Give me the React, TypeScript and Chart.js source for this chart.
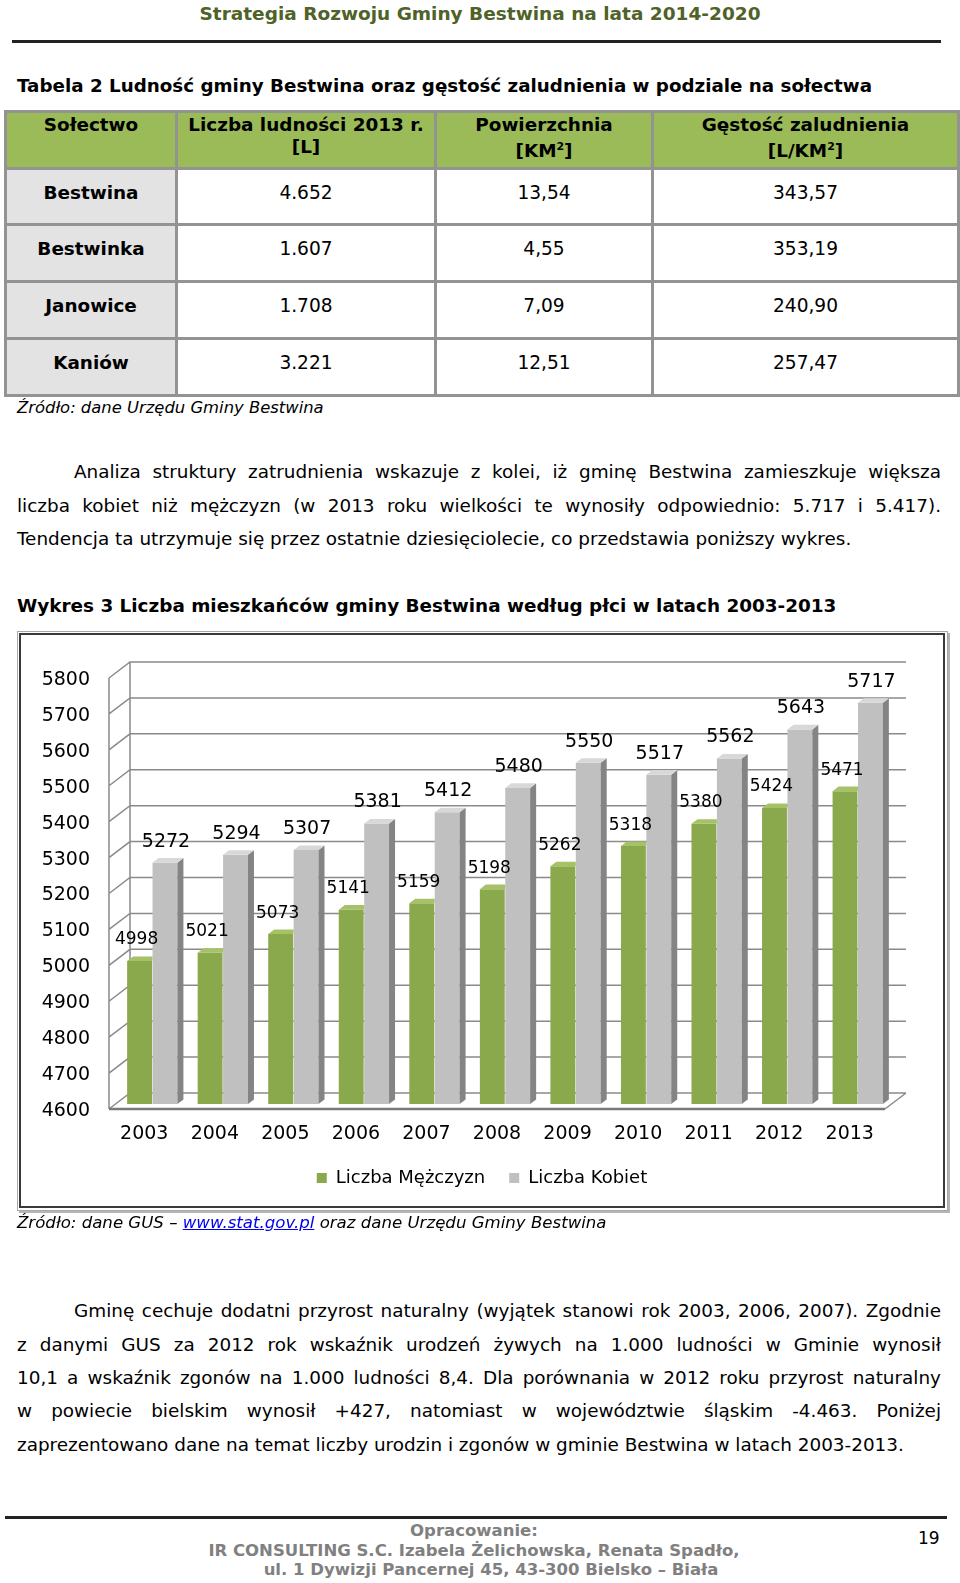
import React, { useEffect, useRef } from "react";
import { Chart, registerables } from "chart.js";

Chart.register(...registerables);

const FONT = "'DejaVu Sans', Verdana, sans-serif";

// ---- chart data ----
const years = ["2003", "2004", "2005", "2006", "2007", "2008", "2009", "2010", "2011", "2012", "2013"];
const menCounts = [4998, 5021, 5073, 5141, 5159, 5198, 5262, 5318, 5380, 5424, 5471];
const womenCounts = [5272, 5294, 5307, 5381, 5412, 5480, 5550, 5517, 5562, 5643, 5717];
const seriesLabels = ["Liczba Mężczyzn", "Liczba Kobiet"];
const axisMin = 4600;
const axisMax = 5800;
const axisStep = 100;

// ---- table data ----
const villages = ["Bestwina", "Bestwinka", "Janowice", "Kaniów"];
const population = ["4.652", "1.607", "1.708", "3.221"];
const areaKm2 = ["13,54", "4,55", "7,09", "12,51"];
const density = ["343,57", "353,19", "240,90", "257,47"];

const para1 = [
  "Analiza struktury zatrudnienia wskazuje z kolei, iż gminę Bestwina zamieszkuje większa",
  "liczba kobiet niż mężczyzn (w 2013 roku wielkości te wynosiły odpowiednio: 5.717 i 5.417).",
  "Tendencja ta utrzymuje się przez ostatnie dziesięciolecie, co przedstawia poniższy wykres.",
];
const para2 = [
  "Gminę cechuje dodatni przyrost naturalny (wyjątek stanowi rok 2003, 2006, 2007). Zgodnie",
  "z danymi GUS za 2012 rok wskaźnik urodzeń żywych na 1.000 ludności w Gminie wynosił",
  "10,1 a wskaźnik zgonów na 1.000 ludności 8,4. Dla porównania w 2012 roku przyrost naturalny",
  "w powiecie bielskim wynosił +427, natomiast w województwie śląskim -4.463. Poniżej",
  "zaprezentowano dane na temat liczby urodzin i zgonów w gminie Bestwina w latach 2003-2013.",
];

const BODY = 18.4;

function PopulationChart() {
  const ref = useRef<HTMLCanvasElement>(null);
  useEffect(() => {
    if (!ref.current) return;
    const DX = 21, DY = -16; // wall depth
    const BX = 8, BY = -5; // bars placed at mid depth
    const SX = 6, SY = -4.6; // bar thickness

    const poly = (ctx: CanvasRenderingContext2D, pts: number[][], fill: string) => {
      ctx.beginPath();
      ctx.moveTo(pts[0][0], pts[0][1]);
      for (let k = 1; k < pts.length; k++) ctx.lineTo(pts[k][0], pts[k][1]);
      ctx.closePath();
      ctx.fillStyle = fill;
      ctx.fill();
    };

    const walls3d = {
      id: "walls3d",
      afterLayout(chart: any) {
        const lg = chart.legend;
        if (lg) {
          lg.left += 31;
          lg.right += 31;
        }
      },
      beforeDatasetsDraw(chart: any) {
        const { ctx, chartArea: a } = chart;
        const y = chart.scales.y;
        ctx.save();
        ctx.strokeStyle = "#8a8a8a";
        ctx.lineWidth = 1.5;
        ctx.beginPath();
        y.ticks.forEach((t: any) => {
          const py = y.getPixelForValue(t.value);
          ctx.moveTo(a.left, py);
          ctx.lineTo(a.left + DX, py + DY);
          ctx.lineTo(a.right + DX, py + DY);
        });
        ctx.moveTo(a.left, a.top);
        ctx.lineTo(a.left, a.bottom);
        ctx.moveTo(a.left + DX, a.top + DY);
        ctx.lineTo(a.left + DX, a.bottom + DY);
        ctx.moveTo(a.right, a.bottom);
        ctx.lineTo(a.right + DX, a.bottom + DY);
        ctx.stroke();
        ctx.lineWidth = 2.5;
        ctx.strokeStyle = "#7a7a7a";
        ctx.beginPath();
        ctx.moveTo(a.left, a.bottom);
        ctx.lineTo(a.right, a.bottom);
        ctx.stroke();
        ctx.restore();
        ctx.save();
        ctx.translate(BX, BY);
      },
      afterDatasetsDraw(chart: any) {
        const { ctx } = chart;
        const m0 = chart.getDatasetMeta(0).data;
        const m1 = chart.getDatasetMeta(1).data;
        m0.forEach((b0: any, i: number) => {
          const b1 = m1[i];
          const l0 = b0.x - b0.width / 2, r0 = b0.x + b0.width / 2;
          const l1 = b1.x - b1.width / 2, r1 = b1.x + b1.width / 2;
          ctx.save();
          ctx.beginPath();
          ctx.rect(l0 - 2, 0, l1 - l0 + 2, chart.height);
          ctx.clip();
          poly(ctx, [[l0, b0.y], [r0, b0.y], [r0 + SX, b0.y + SY], [l0 + SX, b0.y + SY]], "#a6c168");
          ctx.restore();
          poly(ctx, [[r1, b1.y], [r1 + SX, b1.y + SY], [r1 + SX, b1.base + SY], [r1, b1.base]], "#848484");
          poly(ctx, [[l1, b1.y], [r1, b1.y], [r1 + SX, b1.y + SY], [l1 + SX, b1.y + SY]], "#d8d8d8");
        });
        ctx.restore();
        ctx.save();
        ctx.fillStyle = "#000";
        ctx.textAlign = "center";
        ctx.textBaseline = "middle";
        ctx.font = `17px ${FONT}`;
        m0.forEach((b: any, i: number) => ctx.fillText(String(menCounts[i]), b.x + BX - 3, b.y + BY - 21));
        ctx.font = `19px ${FONT}`;
        m1.forEach((b: any, i: number) => ctx.fillText(String(womenCounts[i]), b.x + BX + 1, b.y + BY - 21));
        ctx.restore();
      },
    };

    const chart = new Chart(ref.current, {
      type: "bar",
      data: {
        labels: years,
        datasets: [
          { label: seriesLabels[0], data: menCounts, base: axisMin, backgroundColor: "#8aa84c", borderWidth: 0, clip: false } as any,
          { label: seriesLabels[1], data: womenCounts, base: axisMin, backgroundColor: "#c0c0c0", borderWidth: 0, clip: false } as any,
        ],
      },
      options: {
        animation: false,
        responsive: false,
        maintainAspectRatio: false,
        devicePixelRatio: 1,
        layout: { padding: { top: 47, right: 63, left: 0, bottom: 14 } },
        datasets: { bar: { categoryPercentage: 0.72, barPercentage: 0.98 } },
        scales: {
          x: {
            grid: { display: false, drawTicks: false },
            border: { display: false },
            ticks: { color: "#000", font: { family: FONT, size: 19 }, padding: 14, maxRotation: 0, autoSkip: false },
            afterFit: (s: any) => { s.height = 36; },
          },
          y: {
            min: axisMin,
            max: axisMax,
            grid: { display: false, drawTicks: false },
            border: { display: false },
            ticks: {
              stepSize: axisStep,
              color: "#000",
              font: { family: FONT, size: 19 },
              padding: 19,
              labelOffset: 2,
              callback: (v: any) => String(v),
            },
            afterFit: (s: any) => { s.width = 92; },
          },
        },
        plugins: {
          legend: {
            position: "bottom",
            labels: { boxWidth: 10, boxHeight: 10, padding: 24, color: "#000", font: { family: FONT, size: 18 } },
          },
          tooltip: { enabled: false },
        },
      },
      plugins: [walls3d],
    });
    return () => chart.destroy();
  }, []);
  return <canvas ref={ref} width={931} height={580} style={{ position: "absolute", left: 17, top: 631, width: 931, height: 580 }} />;
}

const abs = (left: number, top: number, extra: React.CSSProperties = {}): React.CSSProperties => ({
  position: "absolute",
  left,
  top,
  whiteSpace: "nowrap",
  ...extra,
});

function Line({ text, left, center, width, justify }: { text: string; left: number; center: number; width: number; justify: boolean }) {
  return (
    <div
      style={abs(left, center - 12, {
        width,
        lineHeight: "24px",
        fontSize: BODY,
        textAlign: justify ? "justify" : "left",
        textAlignLast: justify ? "justify" : "left",
      } as React.CSSProperties)}
    >
      {text}
    </div>
  );
}

export default function App() {
  const border = "3px solid #939393";
  const th: React.CSSProperties = {
    border,
    background: "#9bbb59",
    fontWeight: "bold",
    verticalAlign: "top",
    textAlign: "center",
    lineHeight: "22px",
    paddingTop: 1,
    fontSize: 18.4,
  };
  const td: React.CSSProperties = {
    border,
    textAlign: "center",
    verticalAlign: "middle",
    fontSize: 18.6,
    paddingBottom: 10,
  };
  const p1Centers = [472, 506, 539];
  const p2Centers = [1311, 1345, 1378, 1411, 1445];
  const footer: React.CSSProperties = { textAlign: "center", fontWeight: "bold", fontSize: 16.5, lineHeight: "20px", color: "#808080" };
  return (
    <div style={{ position: "absolute", left: 0, top: 0, width: 960, height: 1583, background: "#fff", fontFamily: FONT, color: "#000", overflow: "hidden" }}>
      <div style={abs(0, 3, { width: 960, textAlign: "center", fontWeight: "bold", fontSize: 18.5, lineHeight: "22px", color: "#4f6228" })}>
        Strategia Rozwoju Gminy Bestwina na lata 2014-2020
      </div>
      <div style={abs(12, 40, { width: 929, height: 3, background: "#222" })} />

      <div style={abs(17, 75, { fontWeight: "bold", fontSize: 18.3, lineHeight: "22px" })}>
        Tabela 2 Ludność gminy Bestwina oraz gęstość zaludnienia w podziale na sołectwa
      </div>

      <table style={{ position: "absolute", left: 4, top: 110, width: 953, borderCollapse: "collapse", tableLayout: "fixed" }}>
        <colgroup>
          <col style={{ width: 171 }} />
          <col style={{ width: 259 }} />
          <col style={{ width: 217 }} />
          <col style={{ width: 306 }} />
        </colgroup>
        <tbody>
          <tr style={{ height: 57 }}>
            <td style={th}>Sołectwo</td>
            <td style={th}>Liczba ludności 2013 r.<br />[L]</td>
            <td style={th}>Powierzchnia<br />[KM<sup style={{ fontSize: 11 }}>2</sup>]</td>
            <td style={th}>Gęstość zaludnienia<br />[L/KM<sup style={{ fontSize: 11 }}>2</sup>]</td>
          </tr>
          {villages.map((v, i) => (
            <tr key={v} style={{ height: i === 0 ? 56 : 57 }}>
              <td style={{ ...td, background: "#e3e3e3", fontWeight: "bold", fontSize: 18.4 }}>{v}</td>
              <td style={td}>{population[i]}</td>
              <td style={td}>{areaKm2[i]}</td>
              <td style={td}>{density[i]}</td>
            </tr>
          ))}
        </tbody>
      </table>

      <div style={abs(17, 397, { fontStyle: "italic", fontSize: 16.4, lineHeight: "22px" })}>Źródło: dane Urzędu Gminy Bestwina</div>

      {para1.map((t, i) => (
        <Line key={i} text={t} left={i === 0 ? 74 : 17} width={i === 0 ? 867 : 924} center={p1Centers[i]} justify={i < para1.length - 1} />
      ))}

      <div style={abs(17, 595, { fontWeight: "bold", fontSize: 18.4, lineHeight: "22px" })}>
        Wykres 3 Liczba mieszkańców gminy Bestwina według płci w latach 2003-2013
      </div>

      <PopulationChart />
      <div style={abs(17, 631, { width: 931, height: 580, boxSizing: "border-box", border: "1px solid #a8a8a8", boxShadow: "2px 2px 0 #b5b5b5", pointerEvents: "none" })} />
      <div style={abs(19, 633, { width: 926, height: 575, boxSizing: "border-box", border: "2px solid #3a3a3a", pointerEvents: "none" })} />

      <div style={abs(17, 1212, { fontStyle: "italic", fontSize: 16.6, lineHeight: "22px" })}>
        Źródło: dane GUS – <span style={{ color: "#0000ee", textDecoration: "underline" }}>www.stat.gov.pl</span> oraz dane Urzędu Gminy Bestwina
      </div>

      {para2.map((t, i) => (
        <Line key={i} text={t} left={i === 0 ? 74 : 17} width={i === 0 ? 867 : 924} center={p2Centers[i]} justify={i < para2.length - 1} />
      ))}

      <div style={abs(5, 1516, { width: 942, height: 3, background: "#222" })} />
      <div style={abs(274, 1521, { width: 400, ...footer })}>Opracowanie:</div>
      <div style={abs(174, 1541, { width: 600, ...footer })}>IR CONSULTING S.C. Izabela Żelichowska, Renata Spadło,</div>
      <div style={abs(191, 1560, { width: 600, ...footer })}>ul. 1 Dywizji Pancernej 45, 43-300 Bielsko – Biała</div>
      <div style={abs(918, 1527, { fontSize: 17, lineHeight: "22px" })}>19</div>
    </div>
  );
}
